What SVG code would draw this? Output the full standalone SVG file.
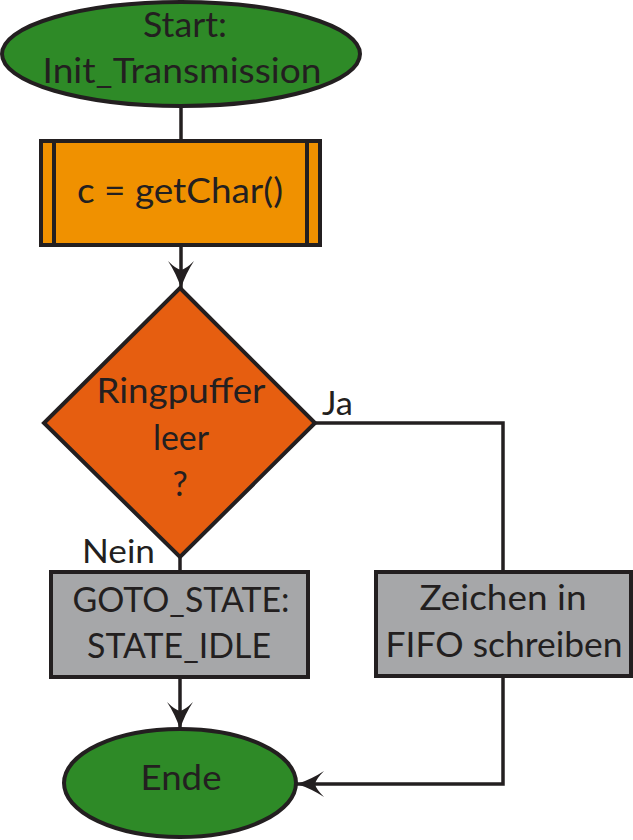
<svg xmlns="http://www.w3.org/2000/svg" width="633" height="840" viewBox="0 0 633 840">
<style>
.shape{stroke:#231F20;stroke-width:4}
.t{font-family:Lato,"Open Sans",sans-serif;font-size:34px;fill:#231F20;text-anchor:middle}
.lbl{font-family:Lato,"Open Sans",sans-serif;font-size:33px;fill:#231F20}
.conn{fill:none;stroke:#231F20;stroke-width:3.5}
</style>
<defs>
<marker id="arr" markerUnits="userSpaceOnUse" viewBox="-30 -15 32 30" markerWidth="32" markerHeight="30" refX="0" refY="0" orient="auto">
<path d="M0,0 Q-15,-5 -27,-13 Q-19,-5 -18,0 Q-19,5 -27,13 Q-15,5 0,0 Z" fill="#231F20"/>
</marker>
</defs>
<rect width="633" height="840" fill="#fff"/>
<g id="connectors">
<path class="conn" d="M181,108 L181,141"/>
<path class="conn" d="M181,245 L181,288" marker-end="url(#arr)"/>
<path class="conn" d="M180,557 L180,572"/>
<path class="conn" d="M315,423 L503,423 L503,572"/>
<path class="conn" d="M180,677 L180,729" marker-end="url(#arr)"/>
<path class="conn" d="M503,676 L503,784 L297,784" marker-end="url(#arr)"/>
</g>
<g id="start">
<ellipse class="shape" cx="181" cy="54" rx="179" ry="52" fill="#2E8A27"/>
<text class="t" x="185" y="37" textLength="84" lengthAdjust="spacingAndGlyphs">Start:</text>
<text class="t" x="182" y="83" textLength="279" lengthAdjust="spacingAndGlyphs">Init_Transmission</text>
</g>
<g id="getchar">
<rect class="shape" x="41" y="141" width="279" height="104" fill="#F09100"/>
<line class="shape" x1="54" y1="141" x2="54" y2="245"/>
<line class="shape" x1="307" y1="141" x2="307" y2="245"/>
<text class="t" x="180" y="203" textLength="206" lengthAdjust="spacingAndGlyphs">c = getChar()</text>
</g>
<g id="decision">
<polygon class="shape" points="180,288 315,423 180,557 44,423" fill="#E65E10"/>
<text class="t" x="181" y="403" textLength="169" lengthAdjust="spacingAndGlyphs">Ringpuffer</text>
<text class="t" x="181" y="450" textLength="56" lengthAdjust="spacingAndGlyphs">leer</text>
<text class="t" x="180" y="496">?</text>
</g>
<g id="labels">
<text class="lbl" x="322" y="415" textLength="31" lengthAdjust="spacingAndGlyphs">Ja</text>
<text class="lbl" x="82" y="563" textLength="73" lengthAdjust="spacingAndGlyphs">Nein</text>
</g>
<g id="goto">
<rect class="shape" x="51" y="572" width="257" height="105" fill="#A6A7A9"/>
<text class="t" x="181" y="612" textLength="217" lengthAdjust="spacingAndGlyphs">GOTO_STATE:</text>
<text class="t" x="179" y="658" textLength="184" lengthAdjust="spacingAndGlyphs">STATE_IDLE</text>
</g>
<g id="fifo">
<rect class="shape" x="376" y="572" width="255" height="104" fill="#A6A7A9"/>
<text class="t" x="503" y="610" textLength="167" lengthAdjust="spacingAndGlyphs">Zeichen in</text>
<text class="t" x="504" y="657" textLength="237" lengthAdjust="spacingAndGlyphs">FIFO schreiben</text>
</g>
<g id="ende">
<ellipse class="shape" cx="180" cy="783" rx="116" ry="54" fill="#2E8A27"/>
<text class="t" x="181" y="790" textLength="81" lengthAdjust="spacingAndGlyphs">Ende</text>
</g>
</svg>
